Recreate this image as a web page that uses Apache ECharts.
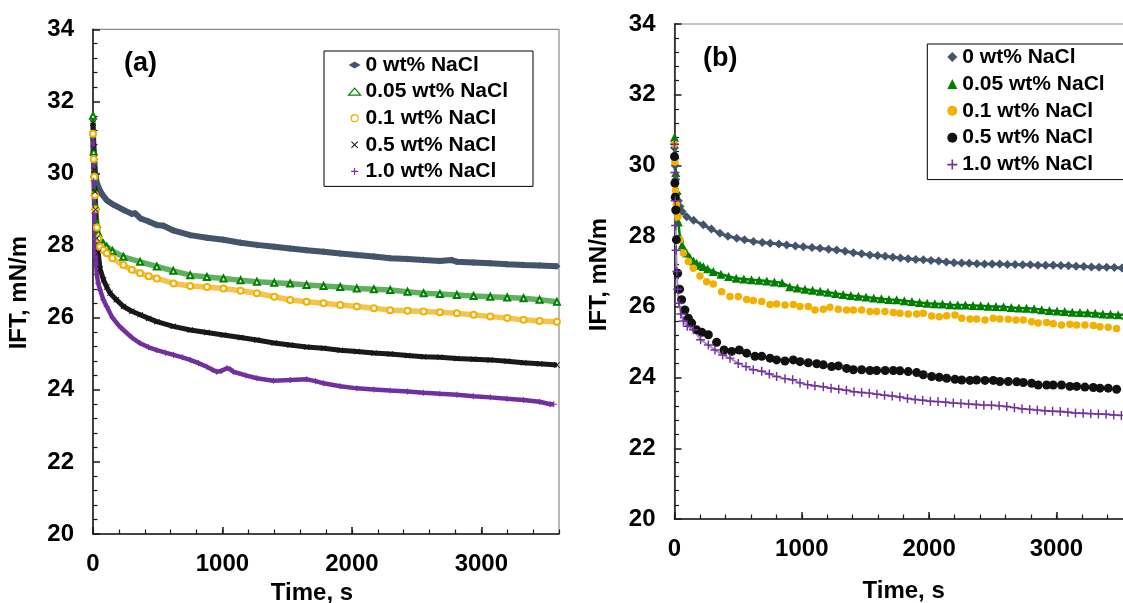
<!DOCTYPE html>
<html>
<head>
<meta charset="utf-8">
<script src="https://cdn.jsdelivr.net/npm/echarts@6/dist/echarts.min.js"></script>
<style>
html,body{margin:0;padding:0;background:#fff;}
#chart{width:1123px;height:603px;}
</style>
</head>
<body>
<div id="chart"></div>
<script>
// ---------- labels / ticks ----------
const NAMES = ['0 wt% NaCl', '0.05 wt% NaCl', '0.1 wt% NaCl', '0.5 wt% NaCl', '1.0 wt% NaCl'];
const PANEL_LABELS = ['(a)', '(b)'];
const X_TITLE = 'Time, s';
const Y_TITLE = 'IFT, mN/m';
const Y_MIN = 20, Y_MAX = 34, Y_STEP = 2;
const X_MIN = 0, X_MAX = 3600, X_STEP = 1000, X_MINOR = 200;

// ---------- panel (a) ----------
const aTime0 = [0,5,10,20,30,50,75,106,150,235,300,325,364,430,493,545,620,751,880,1008,1140,1266,1400,1523,1650,1781,1910,2038,2170,2296,2430,2554,2680,2772,2811,2940,3069,3200,3326,3450,3584];
const aIft0  = [31.0,30.6,30.3,29.95,29.73,29.55,29.4,29.26,29.15,28.99,28.88,28.9,28.76,28.67,28.57,28.55,28.42,28.29,28.22,28.16,28.08,28.02,27.97,27.92,27.87,27.83,27.78,27.74,27.7,27.65,27.63,27.6,27.57,27.6,27.55,27.53,27.51,27.48,27.46,27.45,27.43];

const aTime1 = [0,5,10,15,20,30,40,55,80,106,150,235,364,493,620,751,880,1008,1140,1266,1400,1523,1650,1781,1910,2038,2170,2296,2430,2554,2680,2811,2940,3069,3200,3326,3450,3584];
const aIft1  = [31.6,30.6,30.0,29.5,29.1,28.6,28.35,28.16,28.05,27.97,27.85,27.69,27.55,27.42,27.3,27.18,27.13,27.09,27.04,27.0,26.97,26.95,26.91,26.88,26.85,26.81,26.79,26.77,26.72,26.68,26.66,26.63,26.6,26.58,26.56,26.54,26.5,26.44];

const aTime2 = [0,5,10,15,20,30,40,55,80,106,150,235,300,364,430,493,622,751,880,1008,1140,1266,1400,1523,1650,1781,1910,2038,2170,2296,2430,2554,2680,2811,2940,3069,3200,3326,3450,3584];
const aIft2  = [31.1,30.4,29.9,29.4,29.0,28.5,28.2,27.97,27.88,27.79,27.65,27.46,27.33,27.23,27.15,27.09,26.95,26.88,26.85,26.81,26.75,26.68,26.58,26.49,26.44,26.4,26.35,26.31,26.26,26.21,26.19,26.17,26.15,26.12,26.08,26.03,25.99,25.94,25.91,25.89];

const aTime3 = [0,5,10,15,20,30,40,55,81,106,132,180,235,300,364,430,493,620,751,880,1008,1140,1266,1400,1523,1650,1781,1910,2038,2170,2296,2430,2554,2680,2811,2940,3069,3200,3326,3450,3584];
const aIft3  = [31.4,30.7,30.1,29.5,29.0,28.2,27.8,27.35,27.05,26.85,26.68,26.5,26.31,26.18,26.08,25.98,25.89,25.76,25.66,25.59,25.52,25.45,25.38,25.3,25.24,25.19,25.15,25.1,25.06,25.02,24.99,24.95,24.92,24.9,24.87,24.85,24.83,24.79,24.75,24.72,24.69];

const aTime4 = [0,5,10,15,20,30,40,55,80,106,150,200,235,300,364,430,493,560,622,690,751,815,879,920,956,990,1034,1060,1085,1180,1266,1394,1523,1652,1720,1781,1910,2038,2170,2296,2430,2554,2680,2811,2940,3069,3200,3326,3450,3532,3560];
const aIft4  = [30.9,29.8,28.9,28.2,27.7,27.2,26.95,26.77,26.5,26.31,26.0,25.78,25.66,25.45,25.29,25.18,25.1,25.03,24.97,24.9,24.83,24.74,24.64,24.56,24.5,24.52,24.6,24.57,24.5,24.4,24.32,24.25,24.27,24.29,24.24,24.18,24.1,24.04,24.01,23.98,23.95,23.92,23.89,23.86,23.82,23.79,23.75,23.72,23.67,23.6,23.6];

// ---------- panel (b) ----------
const bTime0 = [0,5,10,20,30,43,60,96,150,226,290,357,420,489,550,620,690,751,820,881,950,1012,1080,1143,1210,1274,1340,1405,1470,1535,1595,1655,1715,1775,1835,1895,1955,2015,2075,2135,2195,2255,2315,2375,2435,2495,2555,2615,2675,2735,2795,2855,2915,2975,3035,3095,3155,3215,3275,3335,3395,3455,3515];
const bIft0  = [30.5,30.0,29.6,29.2,29.0,28.84,28.7,28.55,28.45,28.32,28.2,28.08,28.0,27.94,27.9,27.85,27.82,27.8,27.78,27.75,27.72,27.7,27.68,27.66,27.63,27.61,27.57,27.53,27.5,27.47,27.45,27.43,27.4,27.38,27.36,27.34,27.33,27.31,27.3,27.27,27.25,27.24,27.23,27.22,27.21,27.21,27.21,27.2,27.2,27.19,27.19,27.18,27.18,27.18,27.17,27.16,27.15,27.14,27.13,27.12,27.12,27.11,27.1];

const bTime1 = [0,5,10,15,20,30,43,60,80,96,120,150,174,200,226,260,305,365,425,485,545,605,665,725,785,845,905,965,1025,1085,1145,1205,1265,1325,1385,1445,1505,1565,1625,1685,1745,1805,1865,1925,1985,2045,2105,2165,2225,2285,2345,2405,2465,2525,2585,2645,2705,2765,2825,2885,2945,3005,3065,3125,3185,3245,3305,3365,3425,3485,3545];
const bIft1  = [30.8,30.3,29.8,29.3,28.9,28.4,27.95,27.75,27.6,27.52,27.4,27.3,27.23,27.18,27.14,27.08,27.0,26.92,26.86,26.81,26.79,26.77,26.75,26.73,26.7,26.68,26.57,26.53,26.5,26.47,26.44,26.41,26.38,26.35,26.32,26.3,26.28,26.25,26.23,26.21,26.2,26.17,26.15,26.12,26.1,26.09,26.08,26.06,26.05,26.05,26.04,26.03,26.02,26.01,26.0,25.98,25.97,25.96,25.95,25.92,25.9,25.88,25.87,25.85,25.84,25.83,25.82,25.8,25.79,25.78,25.77];

const bTime2 = [0,3,8,15,27,43,69,109,148,200,253,305,370,436,501,567,619,685,750,802,868,933,986,1051,1103,1169,1221,1287,1352,1405,1470,1535,1588,1653,1719,1771,1836,1902,1954,2020,2080,2138,2203,2256,2321,2373,2439,2504,2556,2622,2682,2740,2805,2857,2923,2975,3040,3106,3159,3224,3290,3342,3407,3473];
const bIft2  = [30.6,30.1,29.3,28.9,28.55,27.9,27.52,27.28,27.09,26.87,26.71,26.65,26.43,26.29,26.29,26.21,26.18,26.15,26.07,26.08,26.05,26.07,26.01,26.01,25.91,25.93,25.99,25.93,25.91,25.91,25.91,25.87,25.87,25.87,25.84,25.82,25.8,25.8,25.82,25.74,25.72,25.75,25.77,25.68,25.66,25.66,25.63,25.68,25.66,25.65,25.63,25.63,25.58,25.54,25.56,25.52,25.49,25.51,25.49,25.49,25.47,25.44,25.42,25.39];

const bTime3 = [0,3,6,10,15,25,40,56,82,109,135,174,215,266,331,389,449,509,567,632,685,750,802,868,933,986,1051,1117,1169,1234,1287,1352,1405,1470,1535,1588,1655,1719,1771,1836,1902,1954,2020,2080,2138,2203,2256,2321,2373,2439,2504,2556,2622,2688,2740,2805,2857,2923,2975,3040,3106,3159,3224,3290,3342,3407,3473];
const bIft3  = [30.25,29.5,29.1,28.74,27.9,26.95,26.5,26.2,25.91,25.68,25.54,25.35,25.28,25.21,25.0,24.78,24.74,24.78,24.69,24.6,24.6,24.55,24.5,24.47,24.5,24.45,24.42,24.39,24.36,24.31,24.33,24.26,24.22,24.22,24.2,24.2,24.2,24.2,24.19,24.17,24.14,24.08,24.03,24.01,23.98,23.95,23.93,23.92,23.93,23.92,23.92,23.89,23.89,23.88,23.86,23.84,23.79,23.79,23.79,23.79,23.75,23.75,23.73,23.72,23.7,23.7,23.67];

const bTime4 = [0,3,6,9,13,18,25,35,50,70,100,148,205,266,318,378,436,501,562,619,685,745,802,868,928,986,1046,1103,1169,1230,1290,1350,1410,1470,1530,1590,1650,1710,1770,1830,1890,1950,2010,2070,2130,2190,2250,2310,2370,2430,2490,2550,2610,2670,2730,2790,2850,2910,2970,3030,3090,3150,3210,3270,3330,3390,3450,3510];
const bIft4  = [30.6,29.8,29.0,28.3,27.6,27.0,26.5,26.1,25.8,25.6,25.45,25.35,25.07,24.92,24.78,24.64,24.55,24.4,24.31,24.22,24.18,24.1,24.03,23.97,23.94,23.85,23.8,23.77,23.74,23.7,23.67,23.64,23.6,23.58,23.56,23.53,23.5,23.48,23.45,23.41,23.38,23.36,23.33,23.32,23.3,23.28,23.27,23.25,23.24,23.22,23.22,23.2,23.18,23.15,23.12,23.1,23.08,23.06,23.05,23.04,23.02,23.0,22.99,22.98,22.97,22.96,22.94,22.93];

// ---------- styling ----------
const FONT = '"Liberation Sans", Arial, Helvetica, sans-serif';
const C_BLUE = '#44546A', C_GREEN = '#008000', C_GOLD = '#F2B000', C_BLACK = '#111111', C_PURPLE = '#7030A0';
const PLUS = 'path://M4.2,0H5.8V4.2H10V5.8H5.8V10H4.2V5.8H0V4.2H4.2Z';
const STAR = 'path://M1,0L5,4L9,0L10,1L6,5L10,9L9,10L5,6L1,10L0,9L4,5L0,1Z';
const AX = '#1a1a1a';
const TICK_FS = 24;

function pts(t, v) { return t.map((x, i) => [x, v[i]]); }

function xMain(gi, gap, pad) {
  return {
    type: 'value', gridIndex: gi, position: 'bottom', min: X_MIN, max: X_MAX, interval: X_STEP,
    axisLine: { show: true, onZero: false, lineStyle: { color: AX, width: 1.5 } },
    axisTick: { show: true, inside: true, length: 7, lineStyle: { color: AX, width: 1.5 } },
    axisLabel: { show: true, showMaxLabel: false, margin: 18, fontSize: TICK_FS, fontWeight: 'bold', fontFamily: FONT, color: '#000',
                 formatter: function (v) { return String(v); } },
    splitLine: { show: false },
    name: X_TITLE, nameLocation: 'middle', nameGap: gap,
    nameTextStyle: { fontSize: TICK_FS, fontWeight: 'bold', fontFamily: FONT, color: '#000', padding: pad }
  };
}
function xMinor(gi) {
  return {
    type: 'value', gridIndex: gi, position: 'bottom', min: X_MIN, max: X_MAX, interval: X_MINOR,
    axisLine: { show: false }, axisLabel: { show: false }, splitLine: { show: false },
    axisTick: { show: true, inside: true, length: 4.5, lineStyle: { color: AX, width: 1.2 } }
  };
}
function yMain(gi, gap, pad) {
  return {
    type: 'value', gridIndex: gi, min: Y_MIN, max: Y_MAX, interval: Y_STEP,
    axisLine: { show: true, onZero: false, lineStyle: { color: AX, width: 1.5 } },
    axisTick: { show: true, inside: true, length: 7, lineStyle: { color: AX, width: 1.5 } },
    minorTick: { show: true, splitNumber: 5, length: 4.5, lineStyle: { color: AX, width: 1.2 } },
    axisLabel: { show: true, margin: 19, fontSize: TICK_FS, fontWeight: 'bold', fontFamily: FONT, color: '#000' },
    splitLine: { show: false }, minorSplitLine: { show: false },
    name: Y_TITLE, nameLocation: 'middle', nameGap: gap, nameRotate: 90,
    nameTextStyle: { fontSize: TICK_FS, fontWeight: 'bold', fontFamily: FONT, color: '#000', padding: pad }
  };
}
function ser(name, gi, data, symbol, size, itemStyle, lineStyle, z) {
  return {
    type: 'line', name: name, xAxisIndex: gi * 2, yAxisIndex: gi, data: data,
    symbol: symbol, symbolSize: size, showSymbol: true, showAllSymbol: true,
    itemStyle: itemStyle, lineStyle: lineStyle, emphasis: { disabled: true },
    animation: false, silent: true, z: z || 2
  };
}

const legendText = { fontSize: 21, fontWeight: 'bold', fontFamily: FONT, color: '#000', lineHeight: 22 };

const option = {
  animation: false,
  backgroundColor: '#fff',
  grid: [
    { left: 93, top: 29.3, width: 466, height: 504.7, show: true, borderColor: '#8a8a8a', borderWidth: 1.2,
      backgroundColor: 'transparent', containLabel: false, outerBoundsMode: 'none' },
    { left: 674.5, top: 24, width: 458.3, height: 495, show: true, borderColor: '#8a8a8a', borderWidth: 1.2,
      backgroundColor: 'transparent', containLabel: false, outerBoundsMode: 'none' }
  ],
  xAxis: [xMain(0, 46, [0, 28, 0, 0]), xMinor(0), xMain(1, 60, 0), xMinor(1)],
  yAxis: [yMain(0, 62, [0, 22, 0, 0]), yMain(1, 63, [0, 6, 0, 0])],
  legend: [
    {
      orient: 'vertical', left: 324, top: 51, padding: [3, 25, 4, 24], itemGap: 4.6,
      itemWidth: 12, itemHeight: 7, borderColor: '#000', borderWidth: 1, selectedMode: false,
      textStyle: legendText,
      data: [
        { name: NAMES[0], icon: 'diamond', itemStyle: { color: C_BLUE, borderWidth: 0 } },
        { name: NAMES[1], icon: 'triangle', itemStyle: { color: '#fff', borderColor: C_GREEN, borderWidth: 1.2 } },
        { name: NAMES[2], icon: 'circle', itemStyle: { color: '#fff', borderColor: C_GOLD, borderWidth: 1.2 } },
        { name: NAMES[3], icon: STAR, itemStyle: { color: C_BLACK, borderWidth: 0 } },
        { name: NAMES[4], icon: PLUS, itemStyle: { color: C_PURPLE, borderWidth: 0 } }
      ]
    },
    {
      orient: 'vertical', left: 927.3, top: 44, padding: [2, 25, 4, 20], itemGap: 4.9,
      itemWidth: 10, itemHeight: 10, borderColor: '#000', borderWidth: 1, selectedMode: false,
      textStyle: legendText,
      data: [
        { name: NAMES[0], icon: 'diamond', itemStyle: { color: C_BLUE, borderWidth: 0 } },
        { name: NAMES[1], icon: 'triangle', itemStyle: { color: C_GREEN, borderWidth: 0 } },
        { name: NAMES[2], icon: 'circle', itemStyle: { color: C_GOLD, borderWidth: 0 } },
        { name: NAMES[3], icon: 'circle', itemStyle: { color: C_BLACK, borderWidth: 0 } },
        { name: NAMES[4], icon: PLUS, itemStyle: { color: C_PURPLE, borderWidth: 0 } }
      ]
    }
  ],
  graphic: [
    { type: 'text', left: 124, top: 50, style: { text: PANEL_LABELS[0], font: 'bold 27px ' + FONT, fill: '#000' } },
    { type: 'text', left: 703, top: 45, style: { text: PANEL_LABELS[1], font: 'bold 27px ' + FONT, fill: '#000' } }
  ],
  series: [
    ser(NAMES[0], 0, pts(aTime0, aIft0), 'diamond', 7, { color: C_BLUE }, { color: C_BLUE, width: 6 }, 2),
    ser(NAMES[1], 0, pts(aTime1, aIft1), 'emptyTriangle', 6, { color: C_GREEN, borderWidth: 1 }, { color: 'rgba(0,128,0,0.62)', width: 5.5 }, 2),
    ser(NAMES[2], 0, pts(aTime2, aIft2), 'emptyCircle', 6, { color: C_GOLD, borderWidth: 1 }, { color: 'rgba(238,172,0,0.7)', width: 5.5 }, 2),
    ser(NAMES[3], 0, pts(aTime3, aIft3), STAR, 6, { color: C_BLACK }, { color: '#1a1a1a', width: 5 }, 2),
    ser(NAMES[4], 0, pts(aTime4, aIft4), PLUS, 6, { color: C_PURPLE }, { color: C_PURPLE, width: 4.5 }, 2),

    ser(NAMES[0], 1, pts(bTime0, bIft0), 'diamond', 9, { color: C_BLUE }, { color: C_BLUE, width: 3 }, 2),
    ser(NAMES[1], 1, pts(bTime1, bIft1), 'triangle', 9, { color: C_GREEN }, { color: C_GREEN, width: 2.5 }, 2),
    ser(NAMES[2], 1, pts(bTime2, bIft2), 'circle', 7.5, { color: C_GOLD }, { color: C_GOLD, width: 0 }, 2),
    ser(NAMES[3], 1, pts(bTime3, bIft3), 'circle', 9, { color: C_BLACK }, { color: C_BLACK, width: 0 }, 2),
    ser(NAMES[4], 1, pts(bTime4, bIft4), PLUS, 9, { color: C_PURPLE }, { color: '#a98ccc', width: 2 }, 2)
  ]
};

const chart = echarts.init(document.getElementById('chart'), null, { renderer: 'canvas' });
chart.setOption(option);
</script>
</body>
</html>
